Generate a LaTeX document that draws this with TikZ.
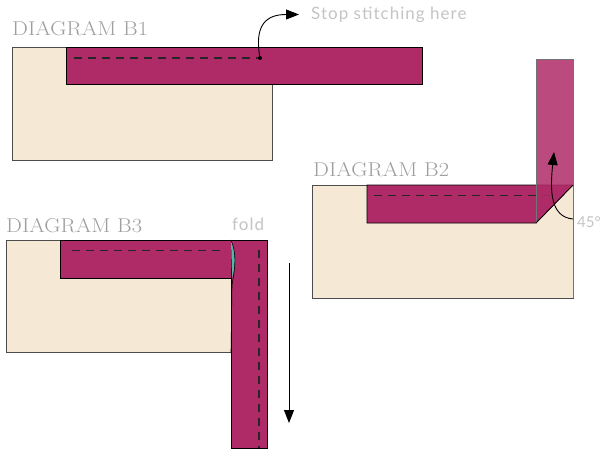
\documentclass[tikz,border=0pt]{standalone}
\usepackage{tikz}
\usepackage{xcolor}
\usepackage{fontspec}
\usetikzlibrary{arrows}
\usetikzlibrary{arrows.meta}
\newfontfamily\lblfont{Lato}[LetterSpace=6]
\newfontfamily\degfont{Lato}
\definecolor{cream}{HTML}{F5E9D6}
\definecolor{berry}{HTML}{AF2B67}
\definecolor{foldteal}{HTML}{5BB5A6}
\definecolor{titlegray}{HTML}{9E9E9E}
\definecolor{notegray}{HTML}{C4C4C4}
\tikzset{
  fabric/.style={fill=cream, draw=black!70, line width=0.7pt},
  strip/.style={fill=berry, draw=black, line width=0.7pt},
  stitch/.style={dashed, dash pattern=on 8pt off 6pt, line width=1.2pt, black!85},
  title/.style={anchor=base west, inner sep=0pt, xscale=1.12, text=titlegray, font=\fontsize{20}{20}\selectfont},
  note/.style={anchor=west, inner sep=0pt, text=notegray, font=\lblfont\fontsize{17}{17}\selectfont},
  move/.style={-{Triangle[length=13pt,width=10pt]}, line width=0.9pt}
}
\begin{document}
\begin{tikzpicture}[x=1pt,y=-1pt]
\useasboundingbox (0,0) rectangle (601,451);
% B1
\node[title] (t1) at (12,35.7) {DIAGRAM B1};
\draw[fabric] (12,47) rectangle (272,160);
\draw[strip] (66,47) rectangle (422,84);
\draw[stitch] (74,58) -- (260,58);
\fill (260,58) circle (2pt);
\coordinate (stop) at (260,58);
\coordinate (stoptip) at (299,14.5);
\draw[move] (stop) .. controls (254,25) and (266,14.5) .. (stoptip);
\node[note] (n1) at (311,15) {Stop stitching here};
% B2
\node[title] (t2) at (313,176.5) {DIAGRAM B2};
\draw[fabric] (312,185) rectangle (573,298);
\draw[strip] (367,185) -- (573,185) -- (536,223) -- (367,223) -- cycle;
\draw[stitch] (374,195.7) -- (553,195.7);
\fill[berry, fill opacity=0.85] (536,59) -- (573,59) -- (573,185) -- (536,223) -- cycle;
\draw[black!55, line width=0.7pt] (536,223) -- (536,59) -- (573,59) -- (573,298);
\draw[black, line width=0.7pt] (536,223) -- (573,185);
\node[note, font=\degfont\fontsize{15}{15}\selectfont] (n2) at (577,222) {45°};
\coordinate (turn) at (573,219);
\coordinate (turntip) at (554,152);
\draw[move] (turn) .. controls (550,217) and (550,190) .. (turntip);
% B3
\node[title] (t3) at (6,232) {DIAGRAM B3};
\draw[fabric] (6,240) rectangle (231,352);
\draw[strip] (60,240) rectangle (231,278);
\draw[strip] (231,240) rectangle (267,448);
\draw[stitch] (72,250.7) -- (225,250.7);
\draw[stitch] (259,250) -- (259,448);
\fill[foldteal] (231,240) .. controls (236,252) and (236,266) .. (232,278) -- cycle;
\draw[black, line width=0.6pt] (231,240) .. controls (237,254) and (235,268) .. (232,285) -- (231,352);
\node[note] (n3) at (232,224) {fold};
\coordinate (pull) at (289,263);
\coordinate (pulltip) at (289,423);
\draw[move] (pull) -- (pulltip);
\end{tikzpicture}
\end{document}
